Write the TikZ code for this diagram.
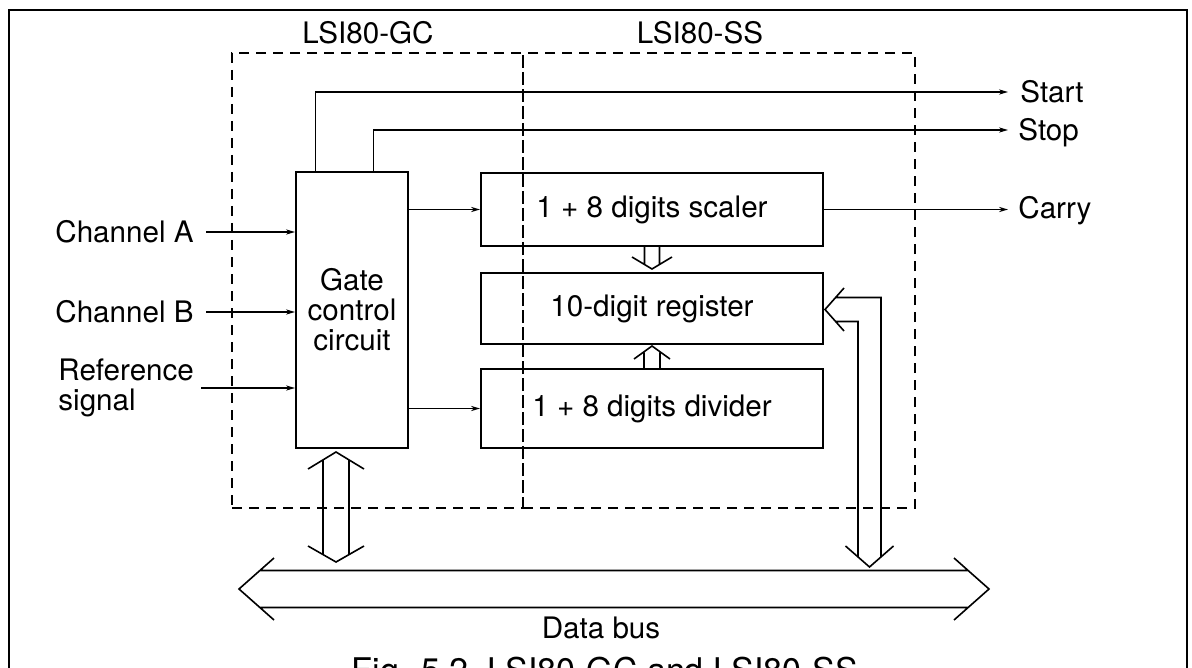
\documentclass[tikz,border=0pt]{standalone}
\usepackage{fontspec}
\setmainfont{TeX Gyre Heros}
\usetikzlibrary{arrows.meta,calc}
\begin{document}
\begin{tikzpicture}[x=0.5pt,y=-0.5pt,
  font=\fontsize{14.8pt}{15pt}\selectfont,
  frame/.style={line width=1pt},
  chip/.style={draw, dash pattern=on 5pt off 3.5pt, line width=0.75pt, inner sep=0pt},
  blk/.style={draw, line width=1pt, inner sep=0pt, align=center},
  lbl/.style={inner sep=0pt, text height=10.6pt, text depth=0pt},
  sig/.style={line width=0.7pt, -{Stealth[length=4.5pt,width=2.6pt]}},
  bus/.style={line width=0.8pt, line join=miter},
]
\path[use as bounding box, clip] (0,0) rectangle (1192,668);
% outer frame
\draw[frame] (9,700) -- (9,10) -- (1187,10) -- (1187,700);

% chip outlines
\node[chip, minimum width=145.5pt, minimum height=227.5pt] (gc) at (377.5,280.5) {};
\node[chip, minimum width=196pt, minimum height=227.5pt] (ss) at (719,280.5) {};
\node[lbl] (gclbl) at (368,33) {LSI80-GC};
\node[lbl] (sslbl) at (700,33) {LSI80-SS};

% blocks
\node[blk, minimum width=56pt, minimum height=138pt] (gate) at (352,310) {Gate\\control\\circuit};
\node[blk, minimum width=171pt, minimum height=36.5pt] (scaler) at (652,209.5) {1 + 8 digits scaler};
\node[blk, minimum width=171pt, minimum height=35.5pt] (register) at (652,308.5) {10-digit register};
\node[blk, minimum width=171pt, minimum height=39.5pt] (divider) at (652,408.5) {1 + 8 digits divider};

% input labels
\node[lbl, anchor=west] (chA) at (55,232) {Channel A};
\node[lbl, anchor=west] (chB) at (55,312) {Channel B};
\node[inner sep=0pt, anchor=west, align=left] (ref) at (58,388) {Reference\\signal};

% output labels
\node[lbl, anchor=west] (start) at (1020,92) {Start};
\node[lbl, anchor=west] (stop) at (1018,130) {Stop};
\node[lbl, anchor=west] (carry) at (1018,208) {Carry};

% input connectors
\draw[sig] ([xshift=6pt]chA.east) -- (chA.east -| gate.west);
\draw[sig] ([xshift=6pt]chB.east) -- (chB.east -| gate.west);
\draw[sig] ([xshift=3.5pt]ref.east) -- (ref.east -| gate.west);

% output connectors
\draw[sig] ($(gate.north west)!0.18!(gate.north east)$) |- ([xshift=-6pt]start.west);
\draw[sig] ($(gate.north west)!0.69!(gate.north east)$) |- ([xshift=-5pt]stop.west);
\draw[sig] (scaler.east) -- ([xshift=-5pt]carry.west |- scaler.east);

% gate to counters
\draw[sig] (gate.east |- scaler.west) -- (scaler.west);
\draw[sig] (gate.east |- divider.west) -- (divider.west);

% open arrow scaler -> register
\draw[bus] ($(scaler.south)+(-7.5,0)$) -- ++(0,17.5)
           ($(scaler.south)+(7.5,0)$) -- ++(0,17.5)
           ($(scaler.south)+(-20,10)$) -- ++(20,12) -- ++(20,-12);
% open arrow divider -> register
\draw[bus] ($(divider.north)+(-8,0)$) -- ++(0,-15.5)
           ($(divider.north)+(8,0)$) -- ++(0,-15.5)
           ($(divider.north)+(-18,-9)$) -- ++(18,-13) -- ++(18,13);

% data bus
\coordinate (busL) at (239,589);
\coordinate (busR) at (989,589);
\draw[bus] ($(busL)+(35,-31)$) -- (busL) -- ($(busL)+(35,31)$)
           ($(busR)+(-35,-31)$) -- (busR) -- ($(busR)+(-35,31)$)
           ($(busL)+(21,-18.5)$) -- ($(busR)+(-21,-18.5)$)
           ($(busL)+(21,18.5)$) -- ($(busR)+(-21,18.5)$);
\node[lbl] (dbus) at (601,628) {Data bus};

% gate <-> data bus
\coordinate (gb) at ($(gate.south)+(-16,3)$);
\draw[bus] ($(gb)+(-28,17)$) -- (gb) -- ($(gb)+(28,17)$)
           ($(gb)+(-13,8)$) -- ++(0,95)
           ($(gb)+(13,8)$) -- ++(0,95)
           ($(gb)+(-28,94)$) -- ($(gb)+(0,110)$) -- ($(gb)+(28,94)$);

% register <-> data bus
\coordinate (rt) at ($(register.east)+(1,1)$);
\coordinate (rb) at (869.5,567);
\draw[bus] ($(rt)+(19,-21.5)$) -- (rt) -- ($(rt)+(19,21.5)$)
           ($(rt)+(10.6,-12)$) -| ($(rb)+(11.5,-10)$)
           ($(rt)+(10.6,12)$) -| ($(rb)+(-11.5,-10)$)
           ($(rb)+(-24,-21)$) -- (rb) -- ($(rb)+(24,-21)$);

% caption (cut by the lower edge)
\node[inner sep=0pt, anchor=base, font=\fontsize{17pt}{17pt}\selectfont] (cap) at (605,682) {Fig. 5.2~~LSI80-GC and LSI80-SS};
\end{tikzpicture}
\end{document}
